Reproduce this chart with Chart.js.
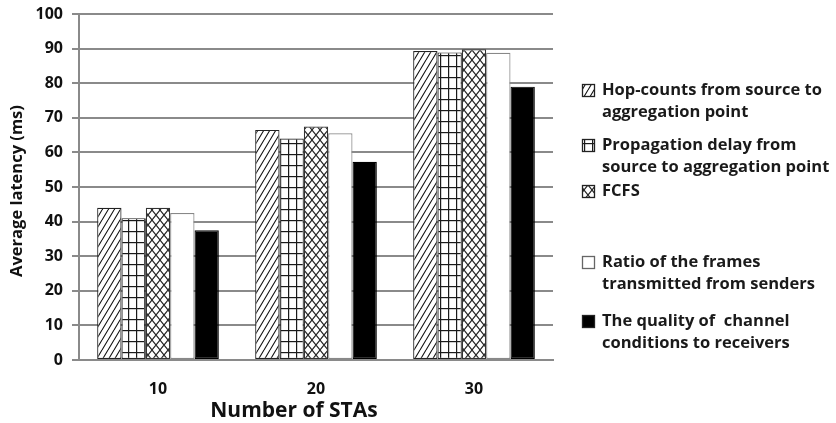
<!DOCTYPE html>
<html>
<head>
<meta charset="utf-8">
<script src="https://cdn.jsdelivr.net/npm/chart.js@4.4.0/dist/chart.umd.min.js"></script>
<style>
  html, body { margin: 0; padding: 0; background: #fff; }
  #wrap { width: 836px; height: 423px; position: relative; }
</style>
</head>
<body>
<div id="wrap"><canvas id="c" width="836" height="423"></canvas></div>
<script>
const categories = ['10', '20', '30'];
const hopCounts = [44, 66.5, 89.3];
const propDelay = [41, 64, 88.9];
const fcfs = [44, 67.5, 89.8];
const ratioFrames = [42.5, 65.5, 88.8];
const channelQuality = [37.5, 57.3, 79];
const yTicks = [0, 10, 20, 30, 40, 50, 60, 70, 80, 90, 100];
const seriesLabels = [
  ['Hop-counts from source to', 'aggregation point'],
  ['Propagation delay from', 'source to aggregation point'],
  ['FCFS'],
  ['Ratio of the frames', 'transmitted from senders'],
  ['The quality of  channel', 'conditions to receivers']
];
const yTitle = 'Average latency (ms)';
const xTitle = 'Number of STAs';

function makePattern(kind) {
  const c = document.createElement('canvas');
  const ctx = c.getContext('2d');
  if (kind === 'hatch') {
    const w = 6, h = 10;
    c.width = w; c.height = h;
    ctx.fillStyle = '#fff'; ctx.fillRect(0, 0, w, h);
    ctx.strokeStyle = '#111'; ctx.lineWidth = 1.1;
    ctx.beginPath();
    for (let k = -1; k <= 1; k++) {
      ctx.moveTo(k * w, h); ctx.lineTo(k * w + w, 0);
    }
    ctx.stroke();
  } else if (kind === 'grid') {
    c.width = 8; c.height = 11;
    ctx.fillStyle = '#fff'; ctx.fillRect(0, 0, 8, 11);
    ctx.fillStyle = '#1a1a1a';
    ctx.fillRect(0, 0, 8, 1.2);
    ctx.fillRect(0, 0, 1.2, 11);
  } else if (kind === 'cross') {
    const w = 8, h = 10;
    c.width = w; c.height = h;
    ctx.fillStyle = '#fff'; ctx.fillRect(0, 0, w, h);
    ctx.strokeStyle = '#222'; ctx.lineWidth = 1.1;
    ctx.beginPath();
    ctx.moveTo(0, 0); ctx.lineTo(w, h);
    ctx.moveTo(0, h); ctx.lineTo(w, 0);
    ctx.stroke();
  }
  return document.getElementById('c').getContext('2d').createPattern(c, 'repeat');
}

const fills = [makePattern('hatch'), makePattern('grid'), makePattern('cross'), '#ffffff', '#000000'];
const borders = ['#222', '#222', '#333', '#888', '#000'];
const values = [hopCounts, propDelay, fcfs, ratioFrames, channelQuality];

const FONT = '"Open Sans", Lato, sans-serif';

const annotatePlugin = {
  id: 'sideLegendAndTitles',
  afterDraw(chart) {
    const ctx = chart.ctx;
    const x0 = 582, tx = 602;
    const ys = [90, 145, 191, 262, 321];
    ctx.save();
    ctx.textBaseline = 'middle';
    ctx.font = 'bold 16.5px ' + FONT;
    seriesLabels.forEach((lines, i) => {
      const y = ys[i];
      ctx.fillStyle = fills[i];
      ctx.fillRect(x0, y - 6, 13, 13);
      ctx.strokeStyle = i === 3 ? '#666' : '#222';
      ctx.lineWidth = 1.3;
      ctx.strokeRect(x0 + 0.5, y - 5.5, 12, 12);
      ctx.fillStyle = '#1a1a1a';
      lines.forEach((t, j) => ctx.fillText(t, tx, y + j * 22));
    });
    // axis titles
    ctx.fillStyle = '#111';
    ctx.textAlign = 'center';
    ctx.font = 'bold 21px ' + FONT;
    ctx.fillText(xTitle, 294, 411);
    ctx.translate(17, 191);
    ctx.rotate(-Math.PI / 2);
    ctx.font = 'bold 16.5px ' + FONT;
    ctx.fillText(yTitle, 0, 0);
    ctx.restore();
  }
};

new Chart(document.getElementById('c'), {
  type: 'bar',
  data: {
    labels: categories,
    datasets: values.map((v, i) => ({
      label: seriesLabels[i].join(' '),
      data: v,
      backgroundColor: fills[i],
      borderColor: borders[i],
      borderWidth: 1.2,
      borderSkipped: false,
      barPercentage: 1.0,
      categoryPercentage: 0.77
    }))
  },
  options: {
    responsive: false,
    animation: false,
    devicePixelRatio: 1,
    layout: { padding: { left: 0, right: 283, top: 14, bottom: 0 } },
    plugins: { legend: { display: false }, tooltip: { enabled: false } },
    scales: {
      x: {
        grid: { display: false },
        border: { display: true, color: '#8a8a8a', width: 2 },
        ticks: { color: '#111', font: { family: FONT, size: 16, weight: 'bold' }, padding: 12 },
        afterFit(s) { s.height = 63; s.paddingLeft = 0; s.paddingRight = 0; }
      },
      y: {
        min: 0, max: 100,
        afterBuildTicks(s) { s.ticks = yTicks.map(v => ({ value: v })); },
        ticks: { color: '#111', font: { family: FONT, size: 16, weight: 'bold' }, padding: 9 },
        grid: { color: '#8a8a8a', lineWidth: 2, tickLength: 7, drawTicks: true },
        border: { display: true, color: '#8a8a8a', width: 2 },
        afterFit(s) { s.width = 79; s.paddingTop = 0; s.paddingBottom = 0; }
      }
    }
  },
  plugins: [annotatePlugin]
});
</script>
</body>
</html>
